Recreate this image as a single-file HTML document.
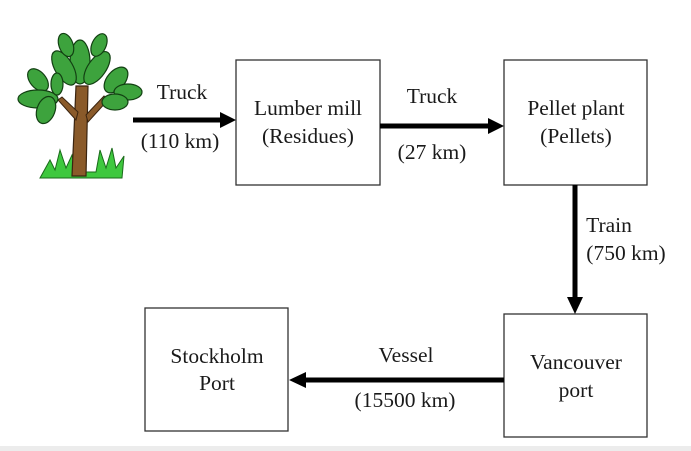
<!DOCTYPE html>
<html><head><meta charset="utf-8"><style>
html,body{margin:0;padding:0;background:#fff;}
svg{display:block;}
text{font-family:"Liberation Serif",serif;font-size:21.5px;fill:#1a1a1a;text-anchor:middle;}
</style></head><body>
<svg width="691" height="451" viewBox="0 0 691 451">
<rect x="0" y="0" width="691" height="451" fill="#fff"/>
<rect x="0" y="446" width="691" height="5" fill="#ececec"/>
<g fill="none" stroke="#333" stroke-width="1.3">
<rect x="236" y="60" width="144" height="125"/>
<rect x="504" y="60" width="143" height="125"/>
<rect x="504" y="314" width="143" height="123"/>
<rect x="145" y="308" width="143" height="123"/>
</g>
<g>
<path d="M40 178 L50 160 L55 170 L60 150 L66 168 L72 155 L76 172 L96 172 L100 150 L106 168 L112 148 L116 168 L124 156 L122 178 Z" fill="#3ec83e" stroke="#1a6a1a" stroke-width="1"/>
<path d="M72 176 L76 86 L88 86 L86 176 Z" fill="#8a5a2a" stroke="#3a2410" stroke-width="1.2"/>
<path d="M76 120 L58 100 L62 97 L78 112 Z M86 115 L104 96 L108 100 L88 122 Z" fill="#8a5a2a" stroke="#3a2410" stroke-width="1"/>
<g fill="#3da33d" stroke="#124012" stroke-width="1.2">
<ellipse cx="80" cy="62" rx="10" ry="22"/>
<ellipse cx="64" cy="68" rx="9" ry="19" transform="rotate(-30 64 68)"/>
<ellipse cx="97" cy="68" rx="9" ry="19" transform="rotate(35 97 68)"/>
<ellipse cx="66" cy="45" rx="7" ry="12" transform="rotate(-20 66 45)"/>
<ellipse cx="99" cy="45" rx="7" ry="12" transform="rotate(25 99 45)"/>
<ellipse cx="38" cy="80" rx="8" ry="13" transform="rotate(-40 38 80)"/>
<ellipse cx="38" cy="99" rx="20" ry="9"/>
<ellipse cx="46" cy="110" rx="9" ry="14" transform="rotate(20 46 110)"/>
<ellipse cx="57" cy="84" rx="6" ry="11"/>
<ellipse cx="116" cy="80" rx="9" ry="15" transform="rotate(40 116 80)"/>
<ellipse cx="128" cy="92" rx="14" ry="8"/>
<ellipse cx="115" cy="102" rx="13" ry="8"/>
</g>
</g>
<g stroke="#000" stroke-width="5">
<line x1="133" y1="120" x2="222" y2="120"/>
<line x1="380" y1="126" x2="490" y2="126"/>
<line x1="575" y1="185" x2="575" y2="300"/>
<line x1="304" y1="380" x2="504" y2="380"/>
</g>
<g fill="#000">
<polygon points="236,120 220,112 220,128"/>
<polygon points="504,126 488,118 488,134"/>
<polygon points="575,314 567,297 583,297"/>
<polygon points="289,380 306,372 306,388"/>
</g>
<text x="182" y="99">Truck</text>
<text x="180" y="148">(110 km)</text>
<text x="432" y="103">Truck</text>
<text x="432" y="159">(27 km)</text>
<text x="609" y="232">Train</text>
<text x="626" y="260">(750 km)</text>
<text x="308" y="115">Lumber mill</text>
<text x="308" y="143">(Residues)</text>
<text x="576" y="115">Pellet plant</text>
<text x="576" y="143">(Pellets)</text>
<text x="576" y="369">Vancouver</text>
<text x="576" y="397">port</text>
<text x="217" y="363">Stockholm</text>
<text x="217" y="390">Port</text>
<text x="406" y="362">Vessel</text>
<text x="405" y="407">(15500 km)</text>
</svg>
</body></html>
